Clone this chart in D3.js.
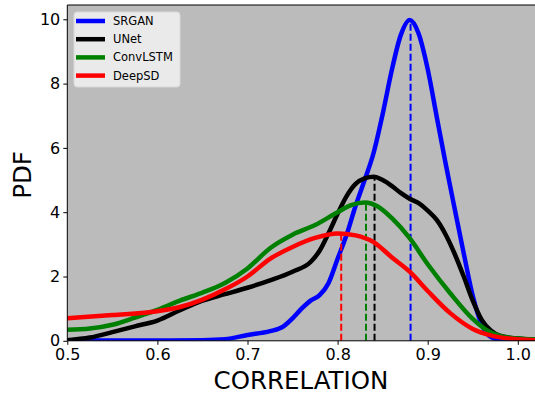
<!DOCTYPE html>
<html>
<head>
<meta charset="utf-8">
<script src="https://cdn.jsdelivr.net/npm/d3@7"></script>
<style>
  body { margin: 0; background: #fff; }
  svg { display: block; font-family: "DejaVu Sans", sans-serif; }
</style>
</head>
<body>
<div id="chart"></div>
<script>
// series names and colours (legend order = draw order)
const seriesNames = ["SRGAN", "UNet", "ConvLSTM", "DeepSD"];
const seriesColors = ["#0000ff", "#000000", "#008000", "#ff0000"];

// kde curves: [correlation, pdf]
const srganPdf = [[0.50,0.01],[0.55,0.01],[0.60,0.01],[0.65,0.02],[0.675,0.05],[0.70,0.18],[0.725,0.3],[0.74,0.45],[0.75,0.7],[0.76,1.0],[0.77,1.25],[0.78,1.42],[0.79,1.8],[0.80,2.55],[0.81,3.3],[0.82,4.2],[0.83,5.0],[0.84,5.85],[0.85,7.05],[0.86,8.4],[0.87,9.5],[0.88,9.98],[0.89,9.55],[0.90,8.45],[0.91,6.97],[0.92,5.5],[0.93,4.1],[0.94,2.72],[0.95,1.4],[0.96,0.5],[0.97,0.12],[0.98,0.03],[1.00,0.0],[1.05,0.0]];
const unetPdf = [[0.50,0.02],[0.525,0.1],[0.55,0.27],[0.575,0.45],[0.60,0.63],[0.625,0.95],[0.65,1.25],[0.675,1.45],[0.70,1.65],[0.725,1.88],[0.75,2.15],[0.77,2.45],[0.78,2.8],[0.79,3.35],[0.80,3.95],[0.81,4.5],[0.82,4.88],[0.83,5.05],[0.84,5.1],[0.85,5.0],[0.86,4.82],[0.87,4.6],[0.88,4.42],[0.89,4.28],[0.90,4.05],[0.91,3.76],[0.92,3.3],[0.93,2.7],[0.94,2.0],[0.95,1.25],[0.96,0.65],[0.97,0.32],[0.98,0.16],[1.00,0.07],[1.02,0.03],[1.05,0.01]];
const convlstmPdf = [[0.50,0.34],[0.525,0.38],[0.55,0.5],[0.575,0.72],[0.60,0.96],[0.625,1.25],[0.65,1.5],[0.675,1.8],[0.70,2.25],[0.725,2.88],[0.75,3.3],[0.775,3.6],[0.80,4.0],[0.815,4.22],[0.83,4.3],[0.845,4.17],[0.86,3.82],[0.88,3.19],[0.90,2.38],[0.925,1.48],[0.95,0.68],[0.965,0.34],[0.98,0.15],[1.00,0.07],[1.05,0.01]];
const deepsdPdf = [[0.50,0.70],[0.55,0.80],[0.60,0.92],[0.625,1.05],[0.65,1.28],[0.675,1.6],[0.70,2.0],[0.725,2.55],[0.75,2.92],[0.775,3.2],[0.80,3.34],[0.82,3.28],[0.84,3.07],[0.86,2.6],[0.88,2.15],[0.90,1.55],[0.925,0.86],[0.95,0.37],[0.97,0.17],[0.99,0.07],[1.02,0.02],[1.05,0.01]];
const seriesData = [srganPdf, unetPdf, convlstmPdf, deepsdPdf];

// dashed markers: median correlation and pdf height there
const medians = [0.881, 0.841, 0.8315, 0.804];
const medianPdf = [9.98, 5.1, 4.3, 3.34];

const xTicks = [0.5, 0.6, 0.7, 0.8, 0.9, 1.0];
const yTicks = [0, 2, 4, 6, 8, 10];

const W = 535, H = 394;
const mLeft = 67.3, mBottom = 340.8, mTop = 5, mRight = 560;

const svg = d3.select("#chart").append("svg")
    .attr("width", W)
    .attr("height", H);

const x = d3.scaleLinear().domain([0.5, 1.0]).range([mLeft, 517.8]);
const y = d3.scaleLinear().domain([0, 10]).range([mBottom, mBottom - 321.5]);

svg.append("defs").append("clipPath").attr("id", "clip")
    .append("rect")
    .attr("x", mLeft).attr("y", mTop)
    .attr("width", mRight - mLeft).attr("height", mBottom - mTop);

// plot background
svg.append("rect")
    .attr("x", mLeft).attr("y", mTop)
    .attr("width", mRight - mLeft).attr("height", mBottom - mTop)
    .attr("fill", "#bbbbbb");

const plot = svg.append("g").attr("clip-path", "url(#clip)");

const line = d3.line()
    .x(d => x(d[0]))
    .y(d => y(d[1]))
    .curve(d3.curveMonotoneX);

seriesData.forEach((s, i) => {
    plot.append("path")
        .datum(s)
        .attr("d", line)
        .attr("fill", "none")
        .attr("stroke", seriesColors[i])
        .attr("stroke-width", 4.5)
        .attr("stroke-linejoin", "round");
    plot.append("line")
        .attr("x1", x(medians[i])).attr("x2", x(medians[i]))
        .attr("y1", y(0)).attr("y2", y(medianPdf[i]))
        .attr("stroke", seriesColors[i])
        .attr("stroke-width", 2)
        .attr("stroke-dasharray", "7,3");
});

// axes
const xAxis = svg.append("g")
    .attr("transform", "translate(0," + mBottom + ")")
    .call(d3.axisBottom(x).tickValues(xTicks).tickFormat(d3.format(".1f")).tickSizeOuter(0).tickSize(4).tickPadding(4));
xAxis.select(".domain").remove();
xAxis.selectAll("text").attr("font-size", 16).attr("fill", "#000").attr("font-family", "DejaVu Sans");

const yAxis = svg.append("g")
    .attr("transform", "translate(" + mLeft + ",0)")
    .call(d3.axisLeft(y).tickValues(yTicks).tickSizeOuter(0).tickSize(4).tickPadding(3));
yAxis.select(".domain").remove();
yAxis.selectAll("text").attr("font-size", 16).attr("fill", "#000").attr("font-family", "DejaVu Sans");

// spines
svg.append("line").attr("x1", mLeft).attr("x2", mLeft).attr("y1", mTop).attr("y2", mBottom)
    .attr("stroke", "#000").attr("stroke-width", 1);
svg.append("line").attr("x1", mLeft).attr("x2", mRight).attr("y1", mBottom).attr("y2", mBottom)
    .attr("stroke", "#000").attr("stroke-width", 1);
svg.append("line").attr("x1", mLeft).attr("x2", mRight).attr("y1", mTop).attr("y2", mTop)
    .attr("stroke", "#000").attr("stroke-width", 1);

// axis labels
svg.append("text")
    .attr("x", 301)
    .attr("y", 389)
    .attr("text-anchor", "middle")
    .attr("font-size", 24.5)
    .text("CORRELATION");

svg.append("text")
    .attr("transform", "translate(31,175) rotate(-90)")
    .attr("text-anchor", "middle")
    .attr("font-size", 24.5)
    .text("PDF");

// legend
const legend = svg.append("g").attr("transform", "translate(74,12)");
legend.append("rect")
    .attr("width", 106).attr("height", 75)
    .attr("rx", 3)
    .attr("fill", "#f2f2f2").attr("fill-opacity", 0.85)
    .attr("stroke", "#d8d8d8");
seriesNames.forEach((name, i) => {
    const g = legend.append("g").attr("transform", "translate(0," + (9 + i * 18.2) + ")");
    g.append("line")
        .attr("x1", 2).attr("x2", 31)
        .attr("stroke", seriesColors[i]).attr("stroke-width", 4.5);
    g.append("text")
        .attr("x", 39).attr("y", 4)
        .attr("font-size", 11.5)
        .text(name);
});
</script>
</body>
</html>
